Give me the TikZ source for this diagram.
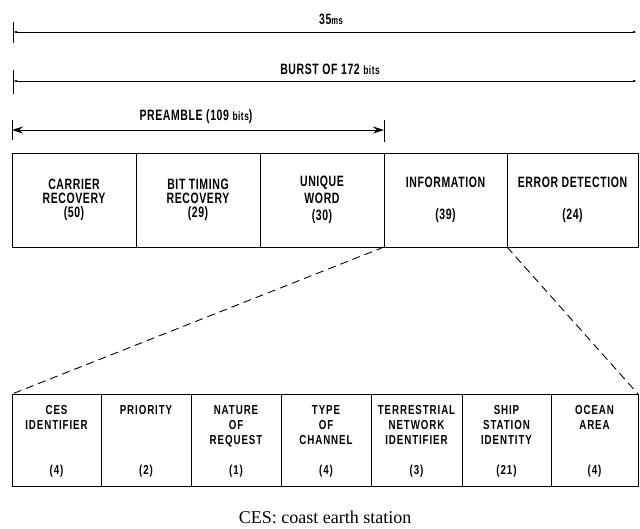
\documentclass[tikz,border=0pt]{standalone}
\usepackage{fontspec}
\setmainfont{Liberation Serif}
\newfontfamily\labelfont[FakeStretch=0.7,LetterSpace=4]{Liberation Sans}
\newfontfamily\sublabelfont[FakeStretch=0.75,LetterSpace=7]{Liberation Sans}
\usetikzlibrary{arrows.meta}

\begin{document}
\begin{tikzpicture}[x=1pt, y=-1pt,
    lbl/.style={font={\labelfont\bfseries\fontsize{15}{14}\selectfont}, align=center, inner sep=0pt},
    sublbl/.style={font={\sublabelfont\bfseries\fontsize{13}{15}\selectfont}, align=center, inner sep=0pt},
    field/.style={draw, line width=1pt, inner sep=0pt, outer sep=0pt},
    dim/.style={line width=1pt, {Latex[length=4pt,width=2.5pt]}-{Latex[length=4pt,width=2.5pt]}},
    link/.style={line width=0.9pt, dash pattern=on 8pt off 5pt}]
    \useasboundingbox (0,0) rectangle (640,528);

    \foreach \nm/\cx/\w/\txt in {carrier/74/124/CARRIER\\RECOVERY\\(50),
                                 timing/198/124/BIT TIMING\\RECOVERY\\(29),
                                 uword/322/124/UNIQUE\\[3pt]WORD\\[3pt](30),
                                 info/445.5/123/INFORMATION\\[18pt](39),
                                 errdet/572.5/131/ERROR DETECTION\\[18pt](24)} {
        \node[field, minimum width=\w pt, minimum height=94pt] (\nm) at (\cx,200) {};
        \node[lbl] (\nm-t) at (\nm) {\txt};
    }

    \foreach \nm/\cx/\w/\txt/\num in {ces/56.5/89/CES\\IDENTIFIER/4,
                                      prio/146/90/PRIORITY/2,
                                      nature/236/90/NATURE\\OF\\REQUEST/1,
                                      chtype/326/90/TYPE\\OF\\CHANNEL/4,
                                      terr/416.5/91/TERRESTRIAL\\NETWORK\\IDENTIFIER/3,
                                      ship/506.5/89/SHIP\\STATION\\IDENTITY/21,
                                      ocean/594.5/87/OCEAN\\AREA/4} {
        \node[field, minimum width=\w pt, minimum height=92pt] (\nm) at (\cx,440) {};
        \node[sublbl, anchor=north] (\nm-t) at ([yshift=-11pt]\nm.north) {\txt};
        \node[sublbl] (\nm-n) at (\cx,471) {(\num)};
    }

    \draw[link] (uword.south east) -- (ces.north west);
    \draw[link] (errdet.south west) -- (ocean.north east);

    \coordinate (frameL) at (13,32);
    \coordinate (frameR) at (637,32);
    \coordinate (burstL) at (13,81);
    \coordinate (burstR) at (637,81);
    \coordinate (preL) at ([yshift=23pt]carrier.north west);
    \coordinate (preR) at ([yshift=23pt]uword.north east);

    \draw[dim] (frameL) -- (frameR);
    \draw[line width=1pt] ([yshift=10pt]frameL) -- ([yshift=-11pt]frameL);
    \node[lbl] (frame) at (331,19) {35{\fontsize{11}{10}\selectfont ms}};

    \draw[dim] (burstL) -- (burstR);
    \draw[line width=1pt] ([yshift=11pt]burstL) -- ([yshift=-13pt]burstL);
    \node[lbl] (burst) at (330,69) {BURST OF 172 {\fontsize{12}{11}\selectfont bits}};

    \draw[line width=1pt, {Stealth[length=11pt,width=7pt]}-{Stealth[length=11pt,width=7pt]}] (preL) -- (preR);
    \draw[line width=1pt] ([yshift=10pt]preL) -- ([yshift=-10pt]preL);
    \draw[line width=1pt] ([yshift=10pt]preR) -- ([yshift=-12pt]preR);
    \node[lbl] (pre) at (196,117) {PREAMBLE (109 {\fontsize{12}{11}\selectfont bits})};

    \node (note) at (325,517) {\fontsize{18}{18}\selectfont CES: coast earth station};
\end{tikzpicture}
\end{document}
